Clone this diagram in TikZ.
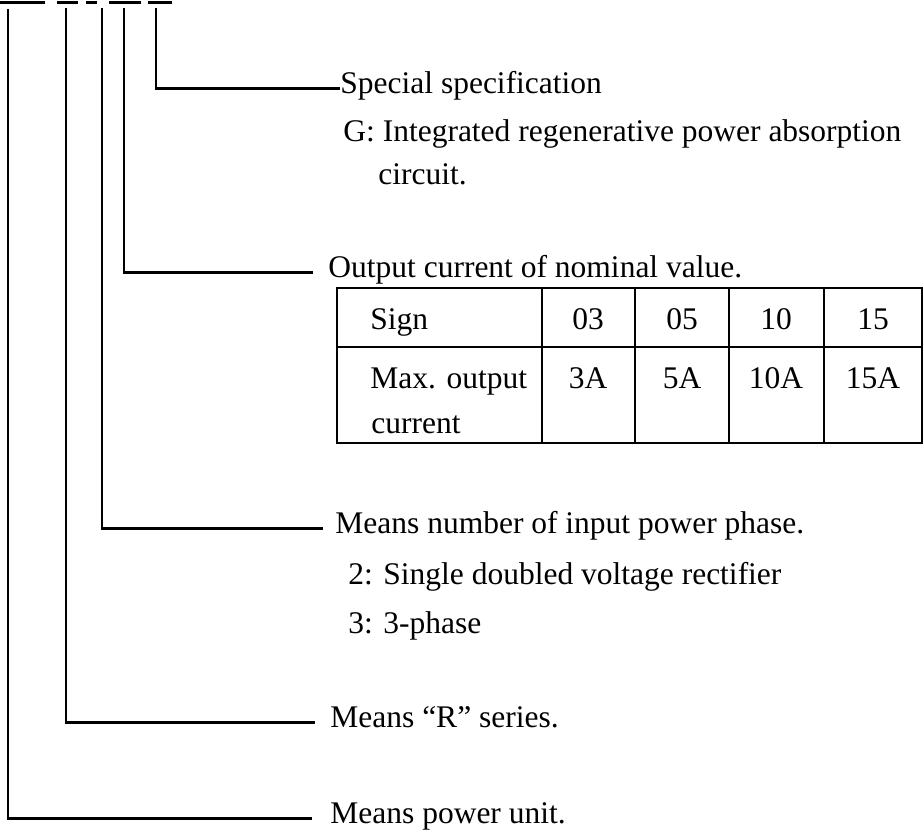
\documentclass[tikz,border=0pt]{standalone}
\usepackage{fontspec}
\setmainfont{Liberation Serif}
\usetikzlibrary{positioning}

\begin{document}
\begin{tikzpicture}[
  x=0.5pt, y=-0.5pt,
  every node/.style={font=\fontsize{15.75}{18}\selectfont},
  lbl/.style={anchor=base west, inner sep=0pt, text height=0.68em, text depth=0.2em},
  cell/.style={anchor=base, inner sep=0pt},
  conn/.style={line width=1.3pt},
  codemark/.style={line width=1.5pt},
  grid/.style={line width=1pt}
]
  \useasboundingbox (0,0) rectangle (924,831);

  % underlines of the type code (cut at the top)
  \foreach \a/\b in {0/45,57/78,86/97,109/141,148/172}
    \draw[codemark] (\a,2) -- (\b,2);

  \coordinate (tapA) at (8,9);
  \coordinate (tapB) at (66,8);
  \coordinate (tapC) at (102,8);
  \coordinate (tapD) at (124,8);
  \coordinate (tapE) at (156,8);

  % labels
  \node[lbl] (spec) at (340,93) {Special specification};
  \node[lbl] (specG) at (343,141) {G: Integrated regenerative power absorption};
  \node[lbl] (specG2) at (378,184) {circuit.};
  \node[lbl] (outp) at (328,277) {Output current of nominal value.};
  \node[lbl] (phase) at (335,533) {Means number of input power phase.};
  \node[lbl] (phase2) at (348,584) {2: Single doubled voltage rectifier};
  \node[lbl] (phase3) at (348,633) {3: 3-phase};
  \node[lbl] (series) at (330,727) {Means “R” series.};
  \node[lbl] (unit) at (330,823) {Means power unit.};

  % table of output current
  \draw[grid] (337,288) rectangle (922,443);
  \draw[grid] (337,347) -- (922,347);
  \foreach \x in {542,635,729,824}
    \draw[grid] (\x,288) -- (\x,443);
  \node[lbl] (sgn) at (370,329) {Sign};
  \node[cell] (s03) at (588,329) {03};
  \node[cell] (s05) at (682,329) {05};
  \node[cell] (s10) at (776,329) {10};
  \node[cell] (s15) at (873,329) {15};
  \node[lbl] (maxo) at (370,388) {Max. output};
  \node[lbl] (maxo2) at (371,433) {current};
  \node[cell] (a03) at (588,388) {3A};
  \node[cell] (a05) at (682,388) {5A};
  \node[cell] (a10) at (776,388) {10A};
  \node[cell] (a15) at (873,388) {15A};

  % connectors
  \draw[conn] (tapE) |- (spec.west);
  \draw[conn, shorten >=7.5pt] (tapD) |- (outp.west);
  \draw[conn, shorten >=6pt] (tapC) |- (phase.west);
  \draw[conn, shorten >=7.5pt] (tapB) |- (series.west);
  \draw[conn, shorten >=9pt] (tapA) |- (unit.west);
\end{tikzpicture}
\end{document}
